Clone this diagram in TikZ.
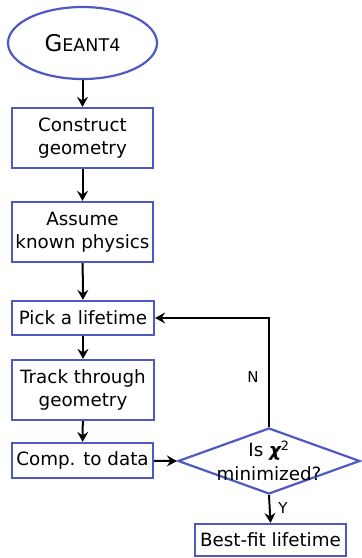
\documentclass[tikz,border=0pt]{standalone}
\usepackage{fontspec}
\setmainfont{DejaVu Sans}
\usetikzlibrary{shapes.geometric,arrows.meta}
\definecolor{boxblue}{RGB}{80,88,196}
\tikzset{
  box/.style={draw=boxblue, line width=2.2pt, rectangle, inner sep=0pt, align=center,
    font=\fontsize{18.3}{22.5}\selectfont},
  arr/.style={draw=black, line width=2pt, -{Stealth[length=10pt,width=11pt,inset=3.5pt]}},
  lab/.style={font=\fontsize{15}{17}\selectfont, inner sep=0pt}
}
\begin{document}
\begin{tikzpicture}[x=1pt,y=-1pt]
\useasboundingbox (0,0) rectangle (362,558);
\node[draw=boxblue, line width=2.2pt, ellipse, minimum width=149pt, minimum height=72pt, inner sep=0pt] (geant) at (82.5,43)
  {\fontsize{23}{26}\selectfont G\fontsize{17.5}{20}\selectfont EANT4};
\node[box, minimum width=141pt, minimum height=60pt] (construct) at (82.5,138) {Construct\\geometry};
\node[box, minimum width=141pt, minimum height=60pt] (assume) at (82.5,232) {Assume\\known physics};
\node[box, minimum width=142pt, minimum height=34pt] (pick) at (83,318) {Pick a lifetime};
\node[box, minimum width=142pt, minimum height=60pt] (track) at (83,390) {Track through\\geometry};
\node[box, minimum width=141pt, minimum height=35pt] (comp) at (82.5,460.5) {Comp. to data};
\node[draw=boxblue, line width=2.2pt, diamond, minimum width=182pt, minimum height=66pt, inner sep=0pt] (dec) at (269,461) {};
\node[align=center, font=\fontsize{18.3}{24}\selectfont, inner sep=0pt] (dectext) at (269,461)
  {Is {\bfseries\itshape χ}\textsuperscript{2}\\minimized?};
\node[box, minimum width=151pt, minimum height=32pt] (best) at (270.5,540) {Best-fit lifetime};
\draw[arr] (geant) -- (construct);
\draw[arr] (construct) -- (assume);
\draw[arr] (assume) -- (pick);
\draw[arr] (pick) -- (track);
\draw[arr] (track) -- (comp);
\draw[arr] (comp) -- (dec.west);
\draw[arr] (dec.north) |- (pick.east);
\draw[arr] (dec.south) -- (best.north);
\node[lab] (nlab) at (253,377) {N};
\node[lab] (ylab) at (283,508) {Y};
\end{tikzpicture}
\end{document}
